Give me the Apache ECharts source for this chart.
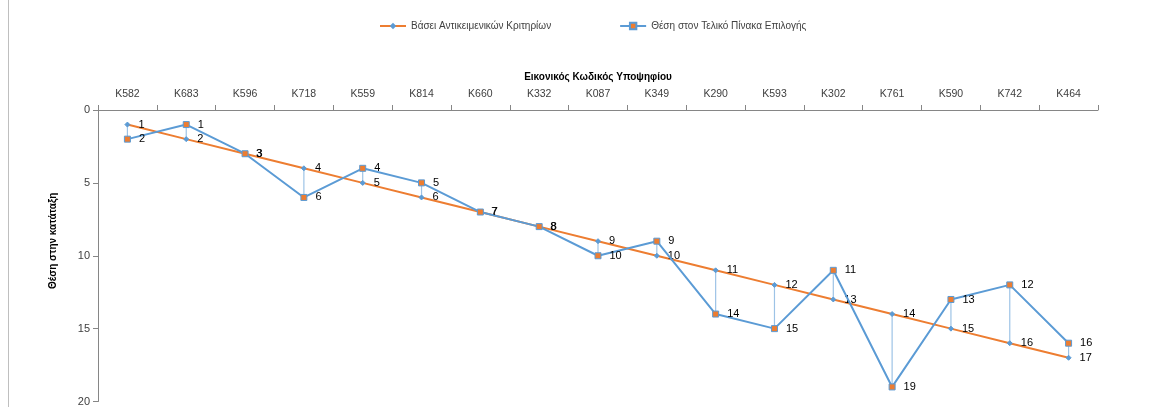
<!DOCTYPE html>
<html lang="el">
<head>
<meta charset="UTF-8">
<title>Θέση στην κατάταξη</title>
<script src="https://cdn.jsdelivr.net/npm/echarts@6/dist/echarts.min.js"></script>
<style>
  body { margin: 0; background: #fff; }
  #chart { width: 1170px; height: 407px; }
</style>
</head>
<body>
<div id="chart"></div>
<script>
// κωδικοί υποψηφίων (άξονας x, επάνω)
const codes = ['K582','K683','K596','K718','K559','K814','K660','K332','K087','K349','K290','K593','K302','K761','K590','K742','K464'];
// θέση βάσει αντικειμενικών κριτηρίων
const objRank = [1,2,3,4,5,6,7,8,9,10,11,12,13,14,15,16,17];
// θέση στον τελικό πίνακα επιλογής
const finalRank = [2,1,3,6,4,5,7,8,10,9,14,15,11,19,13,12,16];
const yTicks = [0, 5, 10, 15, 20];

const nameObj = 'Βάσει Αντικειμενικών Κριτηρίων';
const nameFinal = 'Θέση στον Τελικό Πίνακα Επιλογής';
const font = 'Liberation Sans, Arial, sans-serif';

// γραμμές ύψους-χαμηλού ανάμεσα στις δύο σειρές
const dropData = codes.map((c, i) => [i, Math.min(objRank[i], finalRank[i]), Math.max(objRank[i], finalRank[i])]);

const chart = echarts.init(document.getElementById('chart'));
chart.setOption({
  animation: false,
  textStyle: { fontFamily: font },
  graphic: [{
    type: 'line', shape: { x1: 8.5, y1: 0, x2: 8.5, y2: 407 },
    style: { stroke: '#bfbfbf', lineWidth: 1 }, silent: true
  }],
  legend: {
    top: 16, left: 374,
    itemGap: 68, itemWidth: 26, itemHeight: 8,
    textStyle: { fontSize: 10, color: '#404040', fontFamily: font },
    data: [nameObj, nameFinal]
  },
  grid: { left: 98, right: 72, top: 110, bottom: 5 },
  xAxis: {
    type: 'category', position: 'top', data: codes,
    boundaryGap: true,
    name: 'Εικονικός Κωδικός Υποψηφίου', nameLocation: 'middle', nameGap: 28,
    nameTextStyle: { fontWeight: 'bold', fontSize: 10, color: '#000' },
    axisLine: { lineStyle: { color: '#868686' } },
    axisTick: { show: true, alignWithLabel: false, length: 5, lineStyle: { color: '#868686' } },
    axisLabel: { fontSize: 10.5, color: '#404040', margin: 10 },
    splitLine: { show: false }
  },
  yAxis: {
    type: 'value', inverse: true, min: yTicks[0], max: yTicks[yTicks.length - 1], interval: 5,
    name: 'Θέση στην κατάταξη', nameLocation: 'middle', nameGap: 40, nameRotate: 90,
    nameTextStyle: { fontWeight: 'bold', fontSize: 10, color: '#000', padding: [0, 0, 0, 30] },
    axisLine: { show: true, lineStyle: { color: '#868686' } },
    axisTick: { show: true, length: 5, lineStyle: { color: '#868686' } },
    axisLabel: { fontSize: 11, color: '#404040', margin: 8 },
    splitLine: { show: false }
  },
  series: [
    {
      type: 'custom', silent: true, z: 1,
      renderItem: function (params, api) {
        const a = api.coord([api.value(0), api.value(1)]);
        const b = api.coord([api.value(0), api.value(2)]);
        return { type: 'line', shape: { x1: a[0], y1: a[1], x2: b[0], y2: b[1] },
                 style: { stroke: '#9DC3E6', lineWidth: 1.2 } };
      },
      data: dropData
    },
    {
      name: nameObj, type: 'line', data: objRank, z: 3,
      symbol: 'diamond', symbolSize: 5,
      lineStyle: { color: '#ED7D31', width: 2 },
      itemStyle: { color: '#5B9BD5', borderColor: '#5B9BD5' },
      label: { show: true, position: 'right', distance: 8, fontSize: 11, color: '#000' }
    },
    {
      name: nameFinal, type: 'line', data: finalRank, z: 4,
      symbol: 'rect', symbolSize: 6,
      lineStyle: { color: '#5B9BD5', width: 2 },
      itemStyle: { color: '#ED7D31', borderColor: '#5B9BD5', borderWidth: 1 },
      label: { show: true, position: 'right', distance: 8, fontSize: 11, color: '#000' }
    }
  ]
});
</script>
</body>
</html>
